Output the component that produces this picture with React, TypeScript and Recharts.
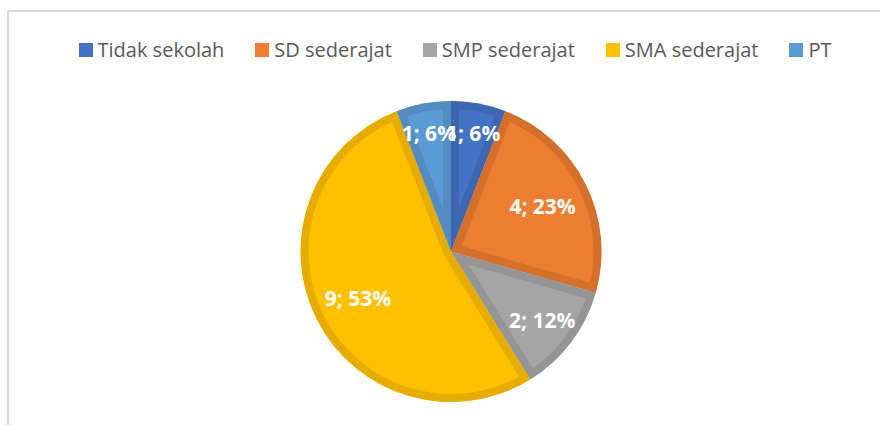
import React from 'react';
import { PieChart, Pie, Cell, Legend, Sector } from 'recharts';

const categories = ['Tidak sekolah', 'SD sederajat', 'SMP sederajat', 'SMA sederajat', 'PT'];
const counts = [1, 4, 2, 9, 1];
const percentLabels = ['6%', '23%', '12%', '53%', '6%'];

const FILLS = ['#4472C4', '#ED7D31', '#A5A5A5', '#FFC000', '#5B9BD5'];
const BORDERS = ['#3D67B0', '#D5702C', '#959595', '#E6AD00', '#528CC0'];
const LABEL_R = [0.8, 0.68, 0.76, 0.69, 0.8];
const FONT = '"Open Sans", "Noto Sans", sans-serif';
const LEGEND_H = 70;

const data = categories.map((name, i) => ({ name, value: counts[i], pct: percentLabels[i] }));

const idxOf = (p: any) => {
  const n = p?.payload?.name ?? p?.name;
  const i = categories.indexOf(n);
  return i < 0 ? p?.index ?? 0 : i;
};

const SliceShape = (props: any) => {
  const { cx, cy, innerRadius, outerRadius, startAngle, endAngle } = props;
  const i = idxOf(props);
  const id = `slice-clip-${i}`;
  return (
    <g>
      <defs>
        <clipPath id={id}>
          <Sector cx={cx} cy={cy} innerRadius={innerRadius} outerRadius={outerRadius} startAngle={startAngle} endAngle={endAngle} />
        </clipPath>
      </defs>
      <Sector
        cx={cx}
        cy={cy}
        innerRadius={innerRadius}
        outerRadius={outerRadius}
        startAngle={startAngle}
        endAngle={endAngle}
        fill={FILLS[i]}
        stroke={BORDERS[i]}
        strokeWidth={16}
        strokeLinejoin="miter"
        clipPath={`url(#${id})`}
      />
    </g>
  );
};

const RAD = Math.PI / 180;
const renderLabel = (props: any) => {
  const { cx, cy, midAngle, outerRadius } = props;
  const i = idxOf(props);
  const r = outerRadius * LABEL_R[i];
  const x = cx + r * Math.cos(-midAngle * RAD);
  const y = cy + r * Math.sin(-midAngle * RAD);
  return (
    <text
      x={x}
      y={y}
      fill="#FFFFFF"
      textAnchor="middle"
      dominantBaseline="central"
      fontFamily={FONT}
      fontWeight={700}
      fontSize={21}
    >
      {`${counts[i]}; ${percentLabels[i]}`}
    </text>
  );
};

const renderLegend = () => (
  <div
    style={{
      height: LEGEND_H,
      width: 880,
      boxSizing: 'border-box',
      paddingTop: 40,
      paddingLeft: 30,
      display: 'flex',
      justifyContent: 'center',
      fontFamily: FONT,
      fontSize: 20,
      color: '#595959',
    }}
  >
    {categories.map((c, i) => (
      <div key={c} style={{ display: 'flex', alignItems: 'center', height: 20, marginRight: i < categories.length - 1 ? 31 : 0 }}>
        <span style={{ display: 'inline-block', width: 14, height: 14, background: FILLS[i], marginRight: 5 }} />
        <span style={{ lineHeight: '20px', whiteSpace: 'nowrap' }}>{c}</span>
      </div>
    ))}
  </div>
);

export default function App() {
  return (
    <div style={{ position: 'absolute', left: 0, top: 0, width: 880, height: 425, background: '#fff', overflow: 'hidden' }}>
      <div
        style={{
          position: 'absolute',
          left: 7,
          top: 10,
          width: 873,
          height: 415,
          borderLeft: '2px solid #D9D9D9',
          borderTop: '2px solid #D9D9D9',
          boxSizing: 'border-box',
        }}
      />
      <div style={{ position: 'absolute', left: 0, top: 0 }}>
        <PieChart width={880} height={425} margin={{ top: 0, right: 0, bottom: 0, left: 0 }}>
          <Legend verticalAlign="top" align="left" content={renderLegend} wrapperStyle={{ left: 0, top: 0, width: 880, height: LEGEND_H }} />
          <Pie
            data={data}
            dataKey="value"
            nameKey="name"
            cx={451}
            cy={251.5 - LEGEND_H}
            innerRadius={0}
            outerRadius={150.5}
            startAngle={90}
            endAngle={-270}
            stroke="none"
            labelLine={false}
            label={renderLabel}
            shape={SliceShape}
            isAnimationActive={false}
          >
            {data.map((d, i) => (
              <Cell key={d.name} fill={FILLS[i]} />
            ))}
          </Pie>
        </PieChart>
      </div>
    </div>
  );
}
